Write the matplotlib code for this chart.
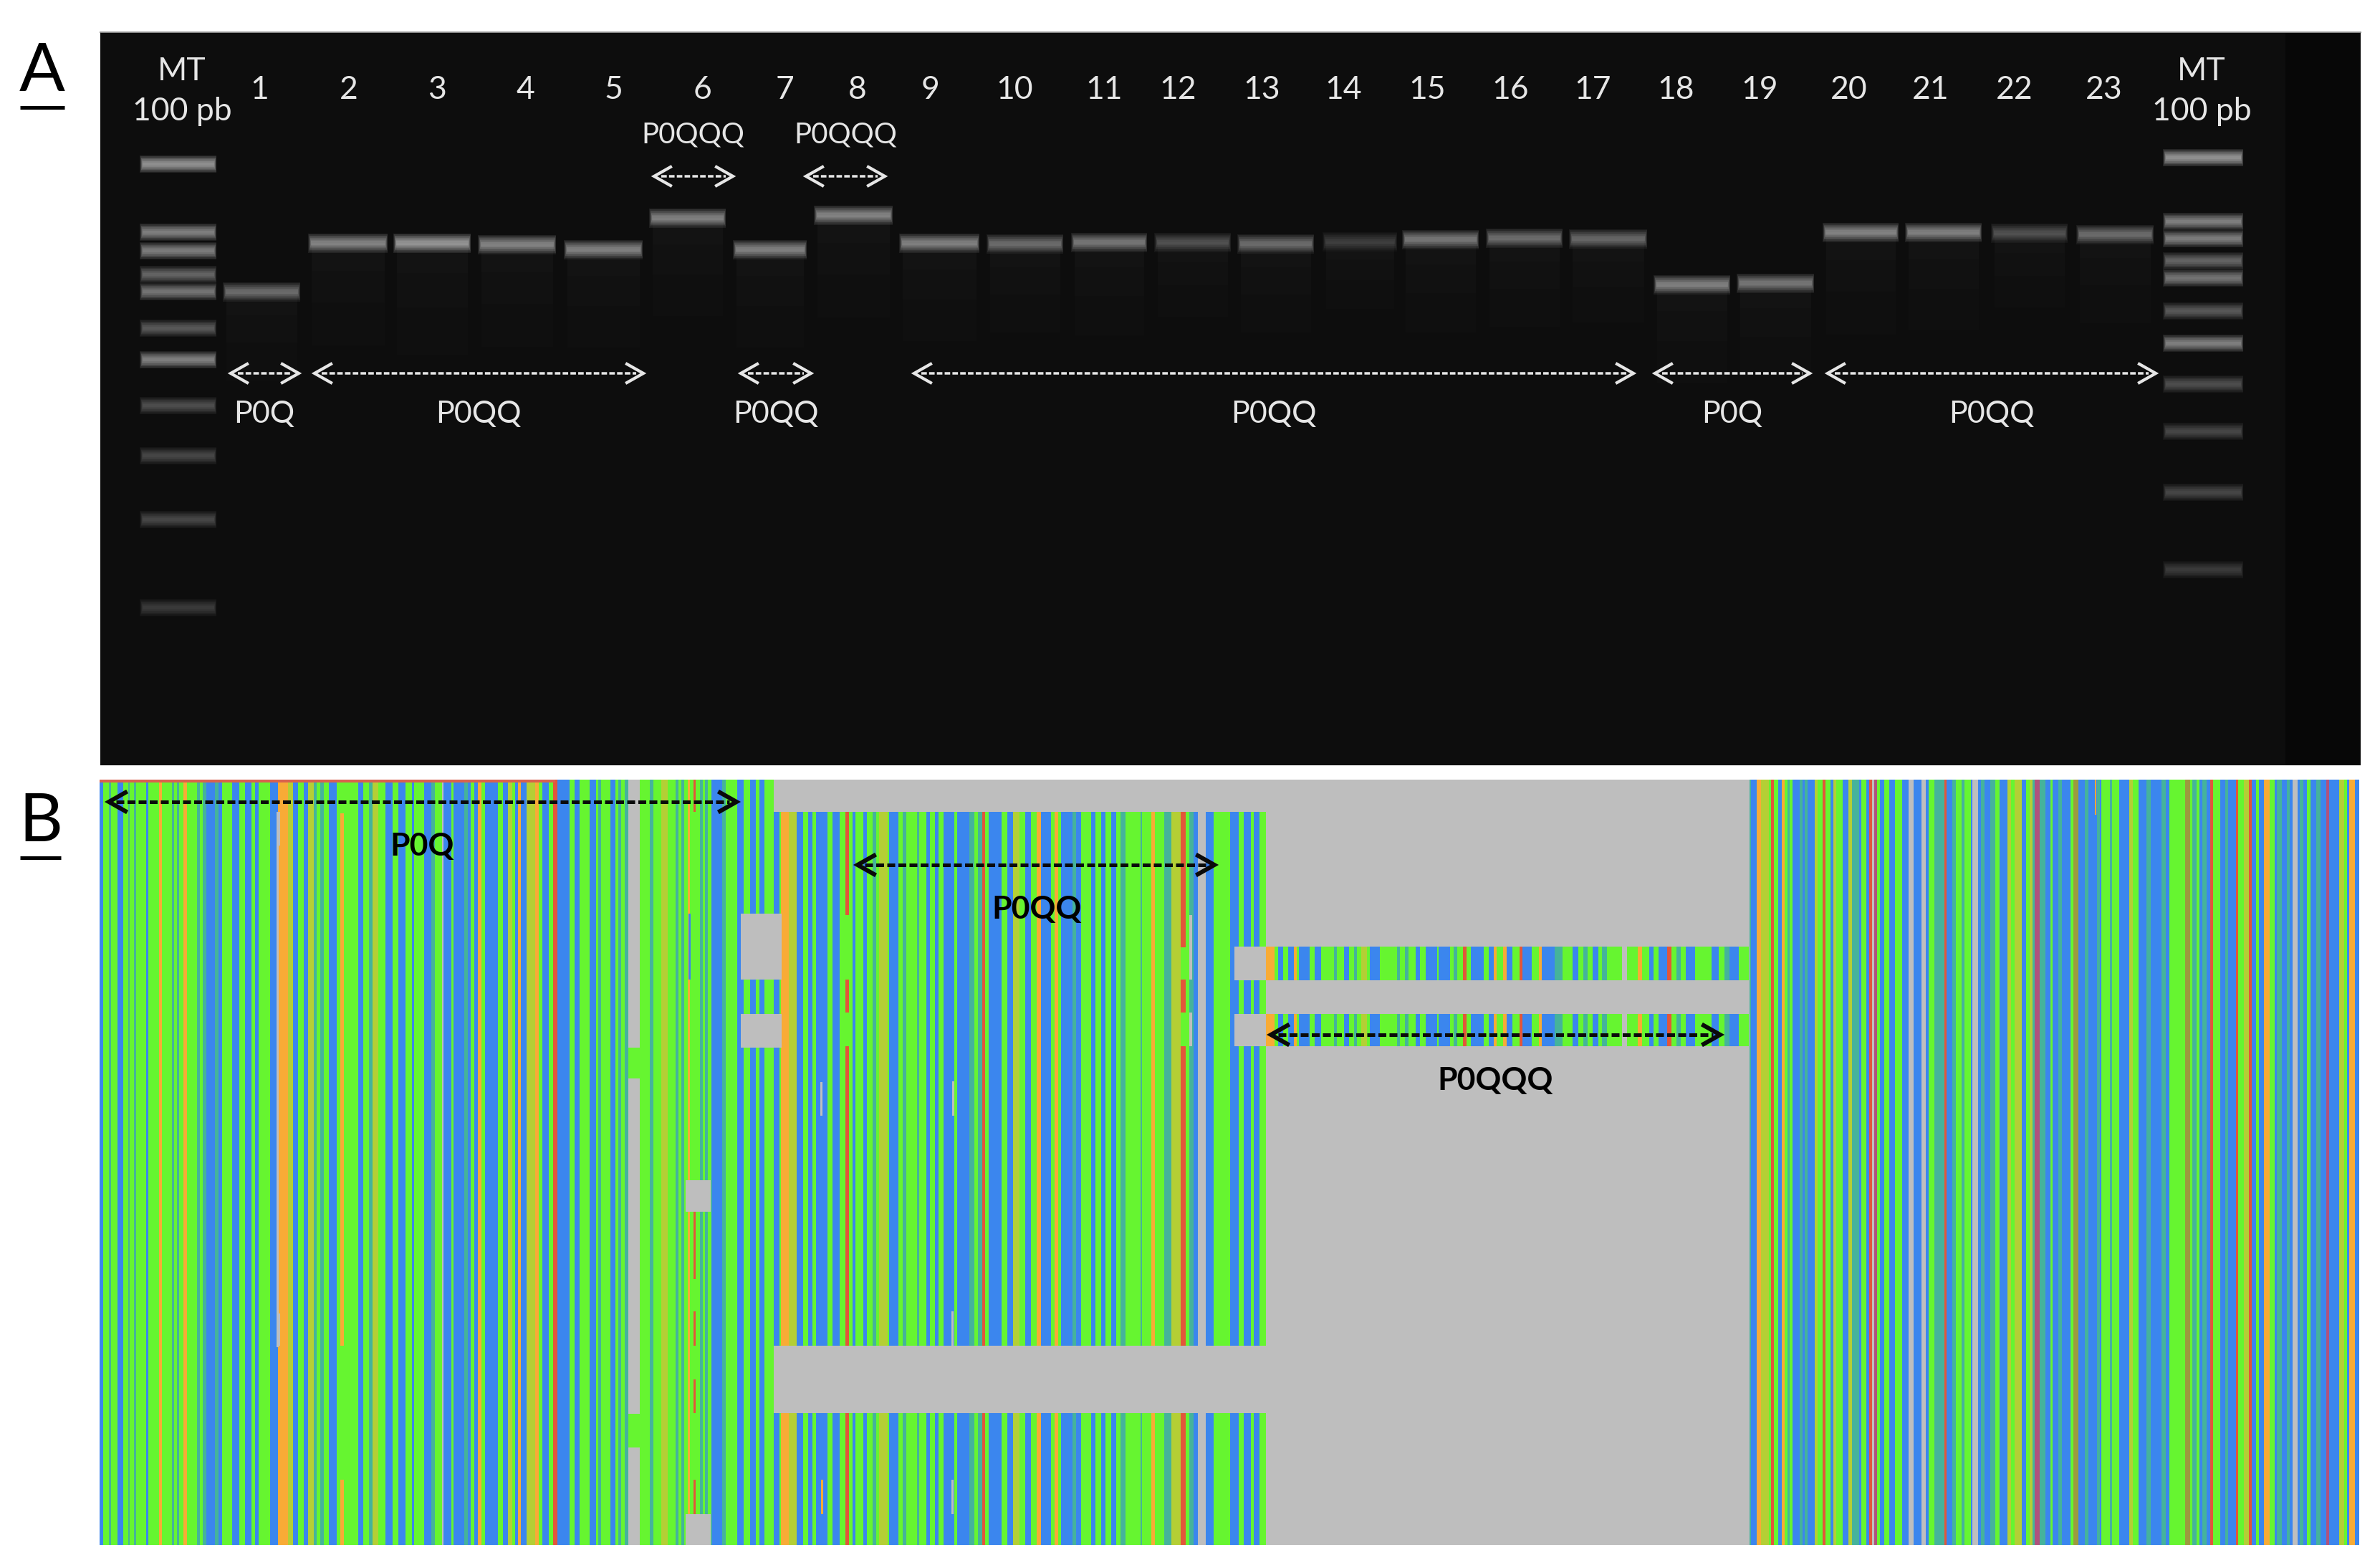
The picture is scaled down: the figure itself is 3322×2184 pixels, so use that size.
import numpy as np
import matplotlib
matplotlib.use("Agg")
import matplotlib.pyplot as plt

plt.rcParams['font.family'] = ['Lato', 'DejaVu Sans']

# gel: lanes and bands
lane_numbers = [str(i) for i in range(1, 24)]
lane_x = [362, 487, 610, 733, 856, 981, 1096, 1197, 1299, 1416, 1541, 1644,
          1761, 1875, 1992, 2108, 2223, 2339, 2456, 2581, 2695, 2812, 2937]
band_left = [316, 435, 554, 672, 792, 911, 1028, 1141, 1260, 1382, 1500, 1616,
             1732, 1851, 1962, 2079, 2195, 2313, 2429, 2549, 2664, 2784, 2903]
band_right = [415, 537, 653, 772, 893, 1009, 1122, 1242, 1363, 1480, 1597, 1714,
              1830, 1946, 2060, 2177, 2295, 2411, 2528, 2646, 2762, 2882, 3002]
band_y = [407, 339, 339, 341, 348, 304, 348, 300, 339, 340, 338, 338,
          340, 337, 334, 332, 333, 397, 395, 324, 324, 325, 327]
band_level = [.45, .6, .7, .6, .55, .55, .55, .6, .55, .45, .5, .3,
              .45, .22, .5, .45, .4, .55, .5, .6, .55, .3, .45]
ladder_left_y = [229, 324, 350, 383, 407, 458, 502, 566, 636, 725, 848]
ladder_right_y = [220, 309, 333, 364, 388, 434, 479, 536, 602, 687, 795]
ladder_level = [.7, .6, .55, .4, .5, .35, .6, .3, .25, .25, .2]

# gel annotations: (start, end, label, label x)
gel_groups = [(322, 417, "P0Q", 369), (439, 898, "P0QQ", 668), (1034, 1132, "P0QQ", 1083),
              (1276, 2280, "P0QQ", 1778), (2310, 2526, "P0Q", 2418), (2551, 3009, "P0QQ", 2780)]
gel_top_groups = [(913, 1023, "P0QQQ", 967), (1125, 1235, "P0QQQ", 1180)]

# alignment columns, colour code + right edge
left_run = """B144 G152 T155 G164 B172 G179 T181 G187 T190 G204 B207 G222 O226 G240 T243 G247 T250
G256 O261 G275 T279 G283 T288 B300 T305 B310 G324 B334 G342 B351 G356 B361 G377 B388 O402 Y409
B416 G424 B430 Y438 T442 G447 T452 G459 B470 G475 O480 G500 B507 G515 T520 Y528 G538 B548 G556
B566 G575 B578 G592 B602 T607 G617 S619 B630 G633 B648 T653 B657 G662 B667 O672 G677 B695 G702
B709 Y715 G719 B723 O727 B735 Y747 O752 G757 B766 G773 R778 B795 G802 B809 G823 B832 G835 T839
G852 B859 G863 T867 G872 T877 S893 G907 T912 G923 Y932 G943 T947 G951 T955 G960 O963 G977 T981
G984 T988 G993 B1008 T1013 G1029 B1038 G1047 B1055 G1060 B1067 G1080"""
mid_run = """B1088 G1090 O1101 Y1112 B1121 G1128 B1134 G1139 B1155 G1162 B1172 G1180 R1185 G1190 B1194
G1205 B1210 G1218 T1223 G1227 Y1239 G1241 B1254 G1260 T1265 G1280 T1283 G1293 B1298 G1305 B1310
G1317 B1332 G1336 B1353 T1360 G1365 T1371 R1375 G1380 B1398 G1406 B1414 Y1423 G1431 B1439 G1447
O1453 B1467 G1472 O1477 G1481 B1497 T1502 B1509 G1523 B1529 G1537 B1543 G1551 B1558 G1564 T1571
G1592 T1594 G1607 O1612 G1625 T1635 Y1648 R1655 G1660 T1666 B1672 S1683 B1694 G1717 B1729 G1736
B1746 G1750 B1758 G1767"""
row_run = """O1779 G1784 B1791 G1798 B1806 O1810 G1813 B1828 G1835 B1844 G1862 T1866 G1876 B1883 G1890
T1894 G1900 Y1908 G1912 B1926 G1950 T1954 G1961 T1966 G1976 B1982 G1990 B2006 G2008 B2024 G2029 T2034 G2042
R2047 G2053 B2071 G2078 B2085 O2089 G2098 O2103 B2111 G2121 R2125 B2138 G2148 O2152 B2170 T2181
G2195 B2203 G2210 T2216 G2223 B2231 G2236 T2243 G2264 S2271 G2286 O2292 G2302 B2308 G2315 B2327
R2333 G2340 T2346 G2353 B2366 G2389 B2399 G2407 T2414 B2427 G2441"""
right_run = """T2444 B2452 O2458 Y2469 G2472 R2476 G2482 B2487 O2491 G2495 T2498 G2502 B2512 T2516 B2519
T2523 B2533 Y2537 G2544 R2548 G2555 B2559 Y2563 G2572 B2580 Y2585 T2595 B2598 G2605 B2609 R2613
S2616 M2620 G2624 B2630 G2637 B2645 G2655 B2664 S2671 B2682 S2688 B2692 G2700 T2714 R2717 B2725
T2730 G2738 T2742 G2751 B2753 S2761 B2765 T2770 B2778 T2785 G2791 B2802 Y2807 G2812 Y2822 B2828
G2833 Y2837 T2840 M2847 T2855 B2862 G2865 B2873 T2878 B2890 G2894 K2901 B2910 T2915 B2927 T2931
B2933 G2945 T2948 G2958 B2972 Y2977 G2985 B2996 T3002 B3017 T3023 B3028 G3050 K3057 G3060 T3066
G3070 B3074 T3080 B3085 R3089 G3099 B3106 T3110 B3121 R3124 G3132 Y3139 R3143 B3149 G3153 B3160
O3168 G3175 B3178 T3185 B3192 T3196 B3200 S3207 B3210 T3215 B3220 G3225 B3233 T3239 B3247 M3251
B3265 Y3272 G3276 B3279 O3287 B3293"""

# patches over the columns: code, x0, x1, y0, y1
gaps = [("S", 1080, 2442, 1088, 1133), ("S", 1767, 2442, 1133, 2156), ("S", 1080, 1767, 1878, 1972),
        ("S", 1034, 1091, 1275, 1367), ("S", 1034, 1091, 1415, 1462),
        ("S", 1723, 1767, 1321, 1368), ("S", 1723, 1767, 1415, 1460),
        ("S", 957, 992, 1647, 1691), ("S", 957, 992, 2113, 2156),
        ("S", 386, 391, 1133, 1180), ("S", 386, 389, 1180, 1880), ("S", 388, 391, 1833, 1878),
        ("G", 877, 893, 1462, 1505), ("G", 877, 893, 1973, 2020),
        ("G", 475, 480, 1088, 1135), ("G", 475, 480, 1878, 2065),
        ("O", 392, 395, 1925, 1972), ("R", 968, 971, 1691, 1785), ("R", 968, 971, 1830, 1878),
        ("R", 968, 971, 1925, 1972), ("R", 968, 971, 2065, 2113), ("R", 968, 971, 1088, 1133),
        ("B", 961, 964, 1275, 1367), ("G", 1180, 1185, 1277, 1367), ("G", 1180, 1185, 1413, 1460),
        ("G", 1648, 1655, 1322, 1367), ("G", 1648, 1655, 1413, 1460),
        ("S", 1660, 1664, 1277, 1367), ("S", 1660, 1664, 1413, 1460),
        ("S", 1328, 1331, 1830, 1878), ("S", 1328, 1331, 2065, 2113),
        ("S", 1145, 1148, 1510, 1557), ("S", 1329, 1332, 1509, 1557),
        ("O", 1146, 1149, 2065, 2113), ("R", 772, 778, 1088, 2156),
        ("O", 2924, 2926, 1088, 1137)]

codes = {"B": "#3b86ee", "G": "#66f530", "O": "#f8ab36", "R": "#e2563a", "Y": "#b4cf35",
         "T": "#45b39b", "S": "#bebebe", "M": "#b0527c", "K": "#9c9a3e"}


def parse_run(run, start):
    names, edges = [], []
    for item in run.split():
        names.append(item[0])
        edges.append(float(item[1:]))
    edges = np.array([start] + edges)
    return names, edges[:-1], np.diff(edges)


def draw_columns(ax, run, start, y0, y1):
    names, lefts, widths = parse_run(run, start)
    ax.bar(lefts, y1 - y0, widths, bottom=y0, align="edge", linewidth=0,
           color=[codes[n] for n in names])


def draw_band(ax, x0, x1, y, level, half=9):
    # stacked see-through bars give the soft edge of a gel band
    for t in np.linspace(1.5, 0.3, 8):
        grow = 3 * t
        ax.bar(x0 - grow, 2 * half * t, x1 - x0 + 2 * grow, bottom=y - half * t, align="edge",
               color="white", alpha=level / 7.5, linewidth=0)


def draw_smear(ax, x0, x1, y, level):
    # faint trail under a sample band, very low alpha rounds to nothing so keep it fixed
    for length in (35, 75, 130):
        ax.bar(x0, length * (0.5 + level), x1 - x0, bottom=y, align="edge", color="white",
               alpha=0.012, linewidth=0)


def draw_arrow(ax, x0, x1, y, colour, lw_px=4):
    lw = lw_px * 72 / 200
    ax.plot([x0 + 10, x1 - 10], [y, y], color=colour, lw=lw, dashes=(2.2, 0.9), dash_capstyle="butt")
    ax.plot([x0 + 23, x0, x0 + 23], [y - 13, y, y + 13], color=colour, lw=lw * 1.2, solid_joinstyle="miter")
    ax.plot([x1 - 23, x1, x1 - 23], [y - 13, y, y + 13], color=colour, lw=lw * 1.2, solid_joinstyle="miter")


fig = plt.figure(figsize=(3323 / 200, 2184 / 200), dpi=200, facecolor="white")
ax = fig.add_axes([0, 0, 1, 1])
ax.set_xlim(0, 3323)
ax.set_ylim(2184, 0)
ax.axis("off")

# panel A
ax.bar(140, 1023, 3155, bottom=45, align="edge", color="#0d0d0d", linewidth=0)
ax.bar(3190, 1023, 105, bottom=45, align="edge", color="#070707", linewidth=0)
ax.plot([140, 3295], [45, 45], color="#8a8a8a", lw=0.7)

for x0, x1, y, level in zip(band_left, band_right, band_y, band_level):
    draw_smear(ax, x0, x1, y, level)
    draw_band(ax, x0, x1, y, level)
for y, level in zip(ladder_left_y, ladder_level):
    draw_band(ax, 200, 298, y, level, half=8)
for y, level in zip(ladder_right_y, ladder_level):
    draw_band(ax, 3024, 3127, y, level, half=8)

gel_text = "#e6e6e6"
for x, name in zip(lane_x, lane_numbers):
    ax.text(x, 126, name, color=gel_text, fontsize=16, ha="center", va="center")
for x in (254, 3073):
    ax.text(x, 100, "MT", color=gel_text, fontsize=16, ha="center", va="center")
    ax.text(x, 156, "100 pb", color=gel_text, fontsize=16, ha="center", va="center")
for x0, x1, label, tx in gel_groups:
    draw_arrow(ax, x0, x1, 521, gel_text, lw_px=3.5)
    ax.text(tx, 578, label, color=gel_text, fontsize=15.5, ha="center", va="center")
for x0, x1, label, tx in gel_top_groups:
    draw_arrow(ax, x0, x1, 246, gel_text, lw_px=3.5)
    ax.text(tx, 188, label, color=gel_text, fontsize=14.5, ha="center", va="center")

# panel B
ax.bar(139, 1068, 3154, bottom=1088, align="edge", color=codes["S"], linewidth=0)
draw_columns(ax, left_run, 139, 1088, 2156)
draw_columns(ax, mid_run, 1080, 1133, 2156)
draw_columns(ax, right_run, 2442, 1088, 2156)
for code, x0, x1, y0, y1 in gaps:
    ax.bar(x0, y1 - y0, x1 - x0, bottom=y0, align="edge", color=codes[code], linewidth=0)
for y0, y1 in ((1321, 1368), (1415, 1460)):
    draw_columns(ax, row_run, 1767, y0, y1)
ax.bar(139, 4, 636, bottom=1088, align="edge", color="#d9624e", linewidth=0)

draw_arrow(ax, 152, 1028, 1119, "#0a0a0a", lw_px=5)
draw_arrow(ax, 1197, 1695, 1207, "#0a0a0a", lw_px=5)
draw_arrow(ax, 1774, 2401, 1444, "#0a0a0a", lw_px=5)
ax.text(589, 1181, "P0Q", color="black", fontsize=16, fontweight="bold", ha="center", va="center")
ax.text(1447, 1269, "P0QQ", color="black", fontsize=16, fontweight="bold", ha="center", va="center")
ax.text(2087, 1508, "P0QQQ", color="black", fontsize=16, fontweight="bold", ha="center", va="center")

# panel letters
ax.text(59, 101, "A", color="black", fontsize=34, ha="center", va="center")
ax.plot([28, 90], [150, 150], color="black", lw=1.8, solid_capstyle="butt")
ax.text(57, 1148, "B", color="black", fontsize=34, ha="center", va="center")
ax.plot([28, 85], [1197, 1197], color="black", lw=1.8, solid_capstyle="butt")

fig.savefig("out.png", dpi=200, facecolor="white")
